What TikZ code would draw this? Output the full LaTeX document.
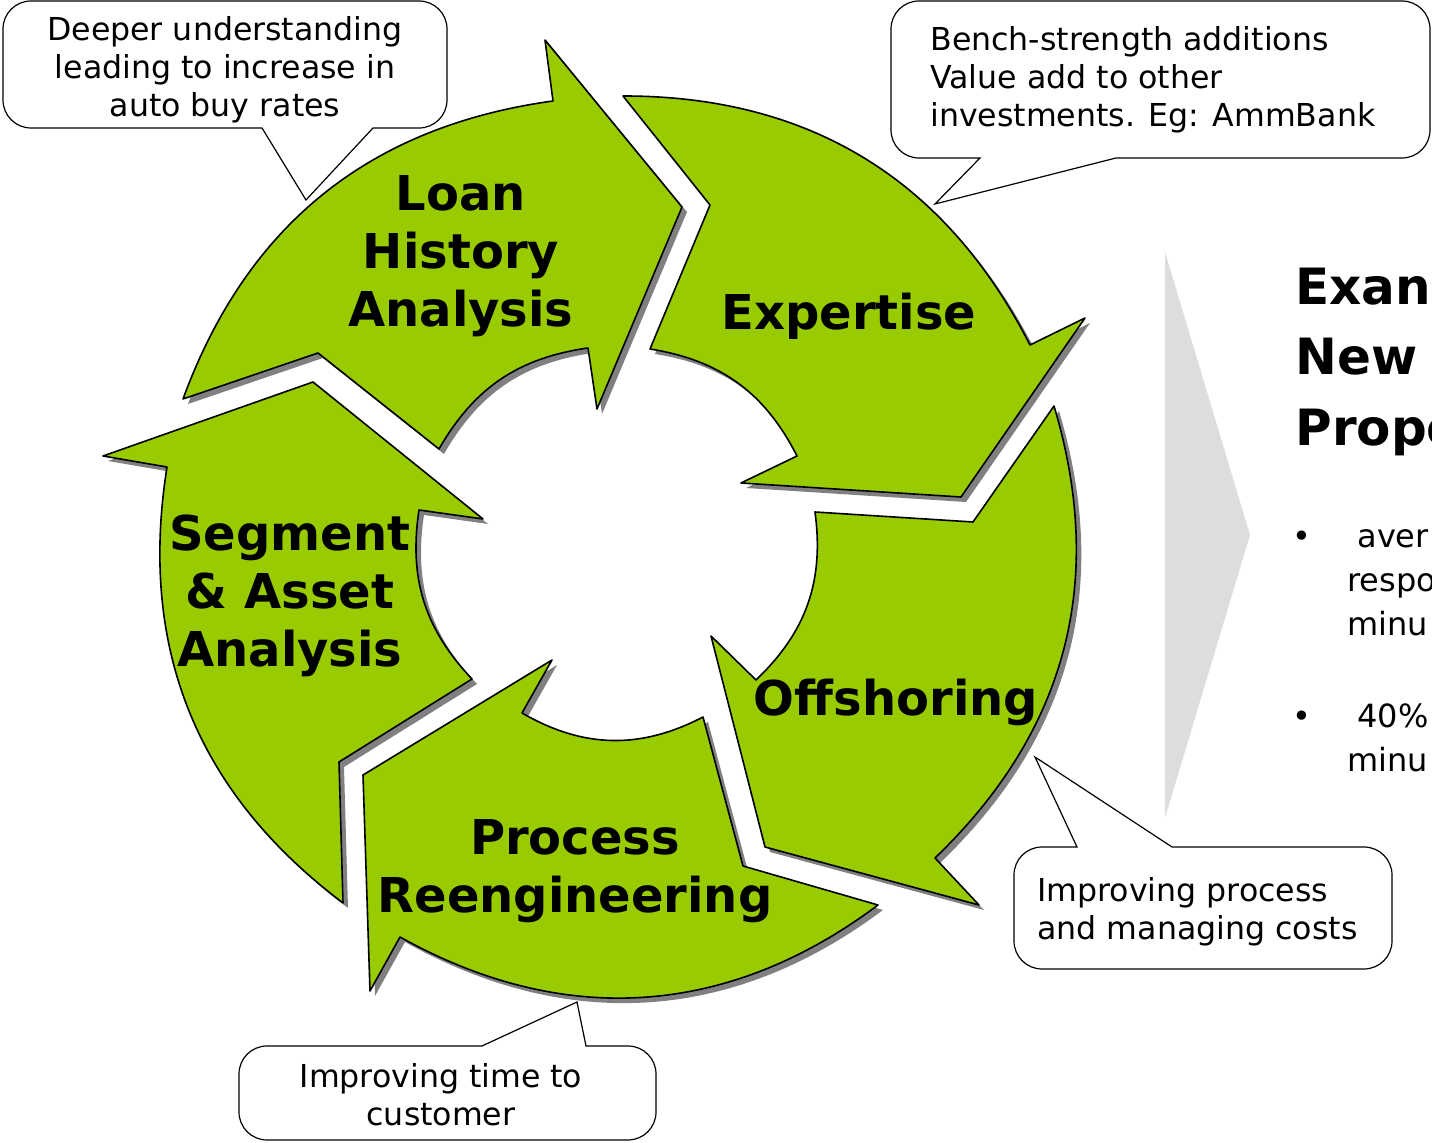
\documentclass[tikz,border=0pt]{standalone}
\usepackage{fontspec}
\setmainfont{DejaVu Sans}
\definecolor{leaf}{HTML}{99CC00}
\definecolor{ringshade}{HTML}{808080}
\definecolor{panelgray}{HTML}{DDDDDD}
% one ring segment: grey drop shadow first, then the outlined green piece
\newcommand\ringpiece[1]{\fill[ringshadow] #1; \filldraw[ringfill] #1;}
\begin{document}
\begin{tikzpicture}[x=0.5pt,y=0.5pt,
  ringfill/.style={fill=leaf,draw=black,line width=0.8pt,line join=round},
  ringshadow/.style={fill=ringshade,shift={(5,-5)}},
  stagelabel/.style={font=\fontsize{24}{29}\selectfont\bfseries,align=center,inner sep=0pt},
  bubble/.style={fill=white,draw=black,line width=0.6pt},
  bubbletext/.style={font=\fontsize{15.8}{19}\selectfont,inner sep=0pt},
  headline/.style={font=\fontsize{25}{35}\selectfont\bfseries,inner sep=0pt,anchor=base west},
  bodyline/.style={font=\fontsize{16}{22}\selectfont,inner sep=0pt,anchor=base west}]
\useasboundingbox (0,0) rectangle (1432,-1143);

% ---- cycle of five arrows ----
\ringpiece{(183,-399) to[bend left=31] (553,-101) -- (545,-40) -- (682,-207) -- (597,-409)
  -- (588,-348) to[bend right=26] (439,-449) -- (318,-353) -- cycle}
\ringpiece{(623,-96) to[bend left=31.5] (1030,-345) -- (1085,-318) -- (961,-497) -- (741,-483)
  -- (797,-456) to[bend right=27] (650,-349) -- (710,-205) -- cycle}
\ringpiece{(1054,-406) to[bend left=31.4] (935,-858) -- (979,-905) -- (765,-847) -- (711,-636)
  -- (756,-680) to[bend right=27] (815,-512) -- (973,-522) -- cycle}
\ringpiece{(878,-905) to[bend left=33] (400,-937) -- (370,-991) -- (363,-775) -- (552,-660)
  -- (522,-713) to[bend right=28.7] (703,-717) -- (743,-866) -- cycle}
\ringpiece{(343,-903) to[bend left=31] (167,-467) -- (103,-456) -- (313,-382) -- (483,-519)
  -- (419,-510) to[bend right=26] (472,-679) -- (339,-762) -- cycle}

\node[stagelabel] (loan) at (461,-256) {Loan\\History\\Analysis};
\node[stagelabel,anchor=base] (expertise) at (849,-330) {Expertise};
\node[stagelabel] (segment) at (290,-596) {Segment\\\& Asset\\Analysis};
\node[stagelabel,anchor=base] (offshoring) at (896,-716) {Offshoring};
\node[stagelabel] (process) at (575,-871) {Process\\Reengineering};

% ---- callouts (rounded box, sharp pointer) ----
\draw[bubble] (373,-128) [rounded corners=14pt] -- (447,-128) -- (447,-1) -- (3,-1) -- (3,-128)
  [sharp corners] -- (262,-128) -- (306,-200) -- cycle;
\node[bubbletext,align=center] (note1) at (225,-70) {Deeper understanding\\leading to increase in\\auto buy rates};

\draw[bubble] (1116,-158) [rounded corners=14pt] -- (1430,-158) -- (1430,-1) -- (891,-1) -- (891,-158)
  [sharp corners] -- (980,-158) -- (935,-204) -- cycle;
\node[bubbletext,align=left,anchor=west] (note2) at (930,-80) {Bench-strength additions\\Value add to other\\investments. Eg: AmmBank};

\draw[bubble] (1077,-847) [rounded corners=14pt] -- (1014,-847) -- (1014,-969) -- (1392,-969) -- (1392,-847)
  [sharp corners] -- (1172,-847) -- (1035,-757) -- cycle;
\node[bubbletext,align=left,anchor=west] (note3) at (1037,-912) {Improving process\\and managing costs};

\draw[bubble] (482,-1046) [rounded corners=14pt] -- (239,-1046) -- (239,-1140) -- (656,-1140) -- (656,-1046)
  [sharp corners] -- (586,-1046) -- (577,-1002) -- cycle;
\node[bubbletext,align=center] (note4) at (441,-1095) {Improving time to\\customer};

% ---- side panel ----
\fill[panelgray] (1165,-252) -- (1250,-535) -- (1165,-818) -- cycle;
\node[headline] (head1) at (1295,-305) {Exan};
\node[headline] (head2) at (1295,-375) {New};
\node[headline] (head3) at (1295,-446) {Propo};
\node[bodyline] (dot1) at (1292,-548) {•};
\node[bodyline] (line1) at (1357,-548) {aver};
\node[bodyline] (line2) at (1347,-592) {respo};
\node[bodyline] (line3) at (1347,-636) {minu};
\node[bodyline] (dot2) at (1292,-728) {•};
\node[bodyline] (line4) at (1357,-728) {40\%};
\node[bodyline] (line5) at (1347,-772) {minu};
\end{tikzpicture}
\end{document}
